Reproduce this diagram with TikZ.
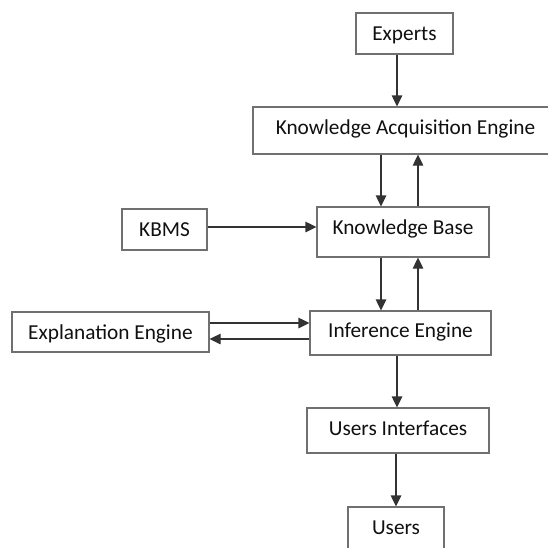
\documentclass[tikz,border=0pt]{standalone}
\usepackage{fontspec}
\setmainfont{Carlito}
\usetikzlibrary{arrows.meta}
\definecolor{boxline}{HTML}{707070}
\definecolor{arrline}{HTML}{333333}
\definecolor{txt}{HTML}{101010}
\begin{document}
\begin{tikzpicture}[x=1pt,y=-1pt,
  box/.style={draw=boxline, line width=1.2pt, inner sep=0pt, text=txt,
    font=\fontsize{21.3}{24}\selectfont, text height=14pt, text depth=4.5pt},
  arr/.style={draw=arrline, line width=1.2pt, -{Triangle[length=11pt,width=10.5pt]}}]
\useasboundingbox (0,0) rectangle (548,547);
\fill[white] (0,0) rectangle (548,547);
\clip (0,0) rectangle (548,547);

% boxes
\node[box, minimum width=97pt, minimum height=41pt, text depth=0pt] (exp) at (404.5,33.5) {Experts};
\node[box, minimum width=305pt, minimum height=47pt, text depth=5.4pt] (kae) at (405.5,130.5) {Knowledge Acquisition Engine};
\node[box, minimum width=85pt, minimum height=41pt, text depth=0pt] (kbms) at (164.5,229.5) {KBMS};
\node[box, minimum width=172pt, minimum height=50pt, text depth=9.4pt] (kb) at (403,232) {Knowledge Base};
\node[box, minimum width=197pt, minimum height=40pt, text depth=0pt] (ee) at (110.5,332) {Explanation Engine};
\node[box, minimum width=181pt, minimum height=44pt] (ie) at (400.5,333) {Inference Engine};
\node[box, minimum width=182pt, minimum height=45pt] (ui) at (398,430.5) {Users Interfaces};
\node[box, minimum width=96pt, minimum height=46pt] (users) at (396,530) {Users};

% guide lines for the connectors
\coordinate (vA) at (397,0);
\coordinate (vB) at (381,0);
\coordinate (vC) at (418,0);
\coordinate (vD) at (396,0);
\coordinate (hA) at (0,227);
\coordinate (hB) at (0,323);
\coordinate (hC) at (0,339);

% connectors
\draw[arr] (exp.south -| vA) -- (kae.north -| vA);
\draw[arr] (kae.south -| vB) -- (kb.north -| vB);
\draw[arr] (kb.north -| vC) -- (kae.south -| vC);
\draw[arr] (kbms.east |- hA) -- (kb.west |- hA);
\draw[arr] (kb.south -| vB) -- (ie.north -| vB);
\draw[arr] (ie.north -| vC) -- (kb.south -| vC);
\draw[arr] (ee.east |- hB) -- (ie.west |- hB);
\draw[arr] (ie.west |- hC) -- (ee.east |- hC);
\draw[arr] (ie.south -| vA) -- (ui.north -| vA);
\draw[arr] (ui.south -| vD) -- (users.north -| vD);
\end{tikzpicture}
\end{document}
